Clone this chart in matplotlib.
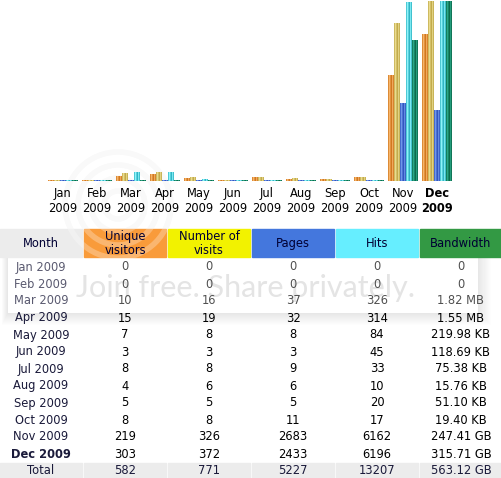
import matplotlib.pyplot as plt
import numpy as np
from matplotlib.patches import Rectangle, Circle

plt.rcParams['font.family'] = ['DejaVu Sans']

months = ['Jan', 'Feb', 'Mar', 'Apr', 'May', 'Jun', 'Jul', 'Aug', 'Sep', 'Oct', 'Nov', 'Dec']
year = '2009'
unique = [0, 0, 10, 15, 7, 3, 8, 4, 5, 8, 219, 303]
visits = [0, 0, 16, 19, 8, 3, 8, 6, 5, 8, 326, 372]
pages = [0, 0, 37, 32, 8, 3, 9, 6, 5, 11, 2683, 2433]
hits = [0, 0, 326, 314, 84, 45, 33, 10, 20, 17, 6162, 6196]
bw_value = [0, 0, 1.82, 1.55, 219.98, 118.69, 75.38, 15.76, 51.10, 19.40, 247.41, 315.71]
bw_unit = ['', '', 'MB', 'MB', 'KB', 'KB', 'KB', 'KB', 'KB', 'KB', 'GB', 'GB']
totals = ['582', '771', '5227', '13207', '563.12 GB']
headers = ['Month', 'Unique\nvisitors', 'Number of\nvisits', 'Pages', 'Hits', 'Bandwidth']

FS = 8.3
W, H = 502, 478
fig = plt.figure(figsize=(W / 100, H / 100), dpi=100)

# table layer in pixel coordinates
tab = fig.add_axes([0, 0, 1, 1])
tab.set_xlim(0, W)
tab.set_ylim(H, 0)
tab.axis('off')

# chart
ax = fig.add_axes([46 / W, (H - 181) / H, 408 / W, 181 / H])
ax.patch.set_visible(False)

mult = {'': 1, 'KB': 1024, 'MB': 1024 ** 2, 'GB': 1024 ** 3}
bw_bytes = np.array([v * mult[u] for v, u in zip(bw_value, bw_unit)])

# awstats scaling: visitors/visits share a scale, pages/hits share a scale
series = [
    np.array(unique) / max(visits),
    np.array(visits) / max(visits),
    np.array(pages) / max(hits),
    np.array(hits) / max(hits),
    bw_bytes / bw_bytes.max(),
]
light = ['#f6b56a', '#eadb8e', '#6e96ec', '#8ef4fa', '#2aa887']
dark = ['#c8690e', '#b8a03c', '#2446b4', '#1aa6b8', '#045c3e']
profile = np.array([0.45, 1.0, 0.55, 0.2, 0.85, 0.35])

px = 1 / 34.0
bw = 6 * px
x = np.arange(len(months))
for i, vals in enumerate(series):
    h = np.maximum(vals, 1 / 180)
    bars = ax.bar(x + (i - 2) * bw, h, width=bw, color=light[i], linewidth=0, zorder=2)
    lc = np.array(plt.matplotlib.colors.to_rgb(light[i]))
    dc = np.array(plt.matplotlib.colors.to_rgb(dark[i]))
    grad = dc + (lc - dc) * profile[:, None]
    for b in bars:
        x0, w, hh = b.get_x(), b.get_width(), b.get_height()
        im = ax.imshow(grad[None, :, :], extent=(x0, x0 + w, 0, hh), aspect='auto',
                       interpolation='nearest', zorder=3)
        im.set_clip_path(b)

ax.set_xlim(-0.5, 11.5)
ax.set_ylim(0, 181 / 180)
for s in ax.spines.values():
    s.set_visible(False)
ax.set_yticks([])
ax.set_xticks(x)
ax.set_xticklabels([m + '\n' + year for m in months], fontsize=FS, color='#000000', linespacing=1.25)
ax.tick_params(axis='x', length=0, pad=4)
ax.get_xticklabels()[-1].set_fontweight('bold')

# photobucket watermark: rings, soft box shadow, text
for r in [14, 27, 40, 53]:
    tab.add_patch(Circle((118, 205), r, fill=False, ec='#000000', lw=4, alpha=0.03, zorder=0.3))
    tab.add_patch(Circle((118, 205), r, fill=False, ec='#ffffff', lw=4, alpha=0.28, zorder=1.5))
for k in range(12, 0, -1):
    tab.add_patch(Rectangle((8 - k * 0.5, 258), 470 + k * 1.6, 55 + k * 1.0,
                            color='#000000', alpha=0.007, lw=0, zorder=0.4))
tab.add_patch(Rectangle((8, 258), 470, 55, color='#ffffff', lw=0, zorder=0.5))
tab.text(246, 288, 'Join free. Share privately.', family='Lato', fontsize=22,
         color='#e4e4e4', ha='center', va='center', zorder=0.6)

# header
cols = [(0, 82), (84, 166), (168, 250), (252, 334), (336, 418), (420, 502)]
head_colors = ['#ececec', '#f99b3a', '#f2f200', '#4477dd', '#66eeff', '#339944']
for (a, b), c, t in zip(cols, head_colors, headers):
    tab.add_patch(Rectangle((a, 229), b - a, 28, color=c, zorder=1))
    tab.text((a + b) / 2, 243.5, t, ha='center', va='center', fontsize=FS,
             color='#000033', linespacing=1.05, zorder=2)

# rows
for r, m in enumerate(months):
    y = 267 + 17 * r
    last = r == len(months) - 1
    faded = r < 3
    mc = '#5a5a70' if faded else '#1a1a3a'
    nc = '#505050' if faded else '#000000'
    bwl = '0' if bw_value[r] == 0 else '%.2f %s' % (bw_value[r], bw_unit[r])
    cells = [m + ' ' + year, str(unique[r]), str(visits[r]), str(pages[r]), str(hits[r]), bwl]
    for k, ((a, b), t) in enumerate(zip(cols, cells)):
        tab.text((a + b) / 2, y, t, ha='center', va='center', fontsize=FS,
                 color=mc if k == 0 else nc,
                 fontweight='bold' if (last and k == 0) else 'normal', zorder=2)

# total row
for k, ((a, b), t) in enumerate(zip(cols, ['Total'] + totals)):
    tab.add_patch(Rectangle((a, 463), b - a, 15, color='#ececec', zorder=1))
    tab.text((a + b) / 2, 471, t, ha='center', va='center', fontsize=FS,
             color='#1a1a3a', zorder=2)

fig.savefig('out.png', dpi=100)
